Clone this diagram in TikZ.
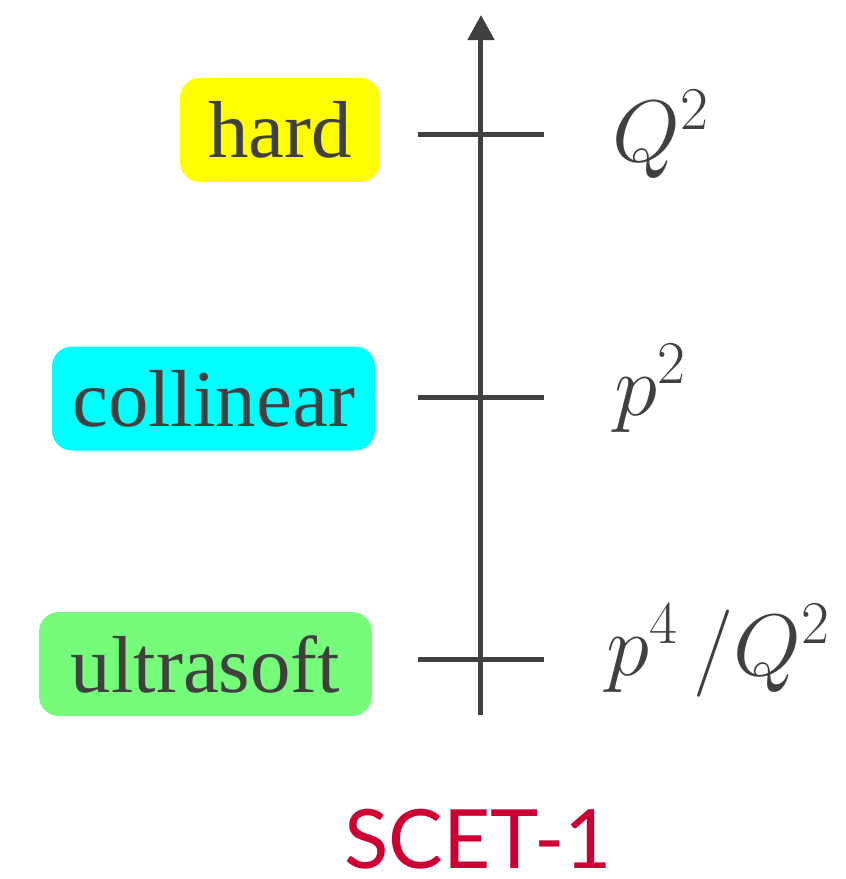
\documentclass[tikz,border=0pt]{standalone}
\usepackage{fontspec}
\setsansfont{Lato}
\newfontfamily\labfamily{Liberation Serif}
\usepackage{xcolor}
\usetikzlibrary{calc, arrows.meta}

\definecolor{inkgray}{RGB}{64,64,64}
\definecolor{hardyellow}{RGB}{255,253,0}
\definecolor{collcyan}{RGB}{0,255,255}
\definecolor{usoftgreen}{RGB}{119,251,123}
\definecolor{scetred}{RGB}{204,0,51}

\newcommand{\labfont}{\labfamily\fontsize{23}{27}\selectfont}

\begin{document}
\begin{tikzpicture}[>={Triangle[width=0.26cm,length=0.25cm]}, line width=0.05cm, color=inkgray,
    regionbox/.style={rounded corners=0.2cm, inner sep=0pt, minimum height=1.04cm, text=inkgray, font=\labfont},
    scalelabel/.style={anchor=base west, inner sep=0pt, text=inkgray, font=\fontsize{26.5}{31}\selectfont}]
        \useasboundingbox (0,0) rectangle (8.46,8.79);

        \def\axisX{4.81}
        \def\tickL{0.63}

        \coordinate (axisbot) at (\axisX,1.64);
        \coordinate (axistop) at (\axisX,8.64);
        \coordinate (thard) at (\axisX,7.445);
        \coordinate (tcoll) at (\axisX,4.82);
        \coordinate (tusoft) at (\axisX,2.20);

        \draw[->] (axisbot) -- (axistop);
        \foreach \t in {thard, tcoll, tusoft}
            \draw ($(\t)+(-\tickL,0)$) -- ($(\t)+(\tickL,0)$);

        \node[regionbox, fill=hardyellow, minimum width=2.00cm] (hard) at (2.80,7.49) {hard};
        \node[regionbox, fill=collcyan, minimum width=3.23cm] (coll) at (2.135,4.805) {collinear};
        \node[regionbox, fill=usoftgreen, minimum width=3.33cm] (usoft) at (2.055,2.15) {ultrasoft};

        \node[scalelabel] (qsq) at (6.10,7.18) {$Q^2$};
        \node[scalelabel] (psq) at (6.12,4.64) {$p^2$};
        \node[scalelabel] (pfour) at (6.04,2.04) {$p^4\mkern3mu/Q^2$};

        \node[anchor=base, inner sep=0pt, text=scetred, font=\sffamily\fontsize{23.3}{28}\selectfont] (scet) at (4.78,0.10) {SCET-1};
    \end{tikzpicture}
\end{document}
